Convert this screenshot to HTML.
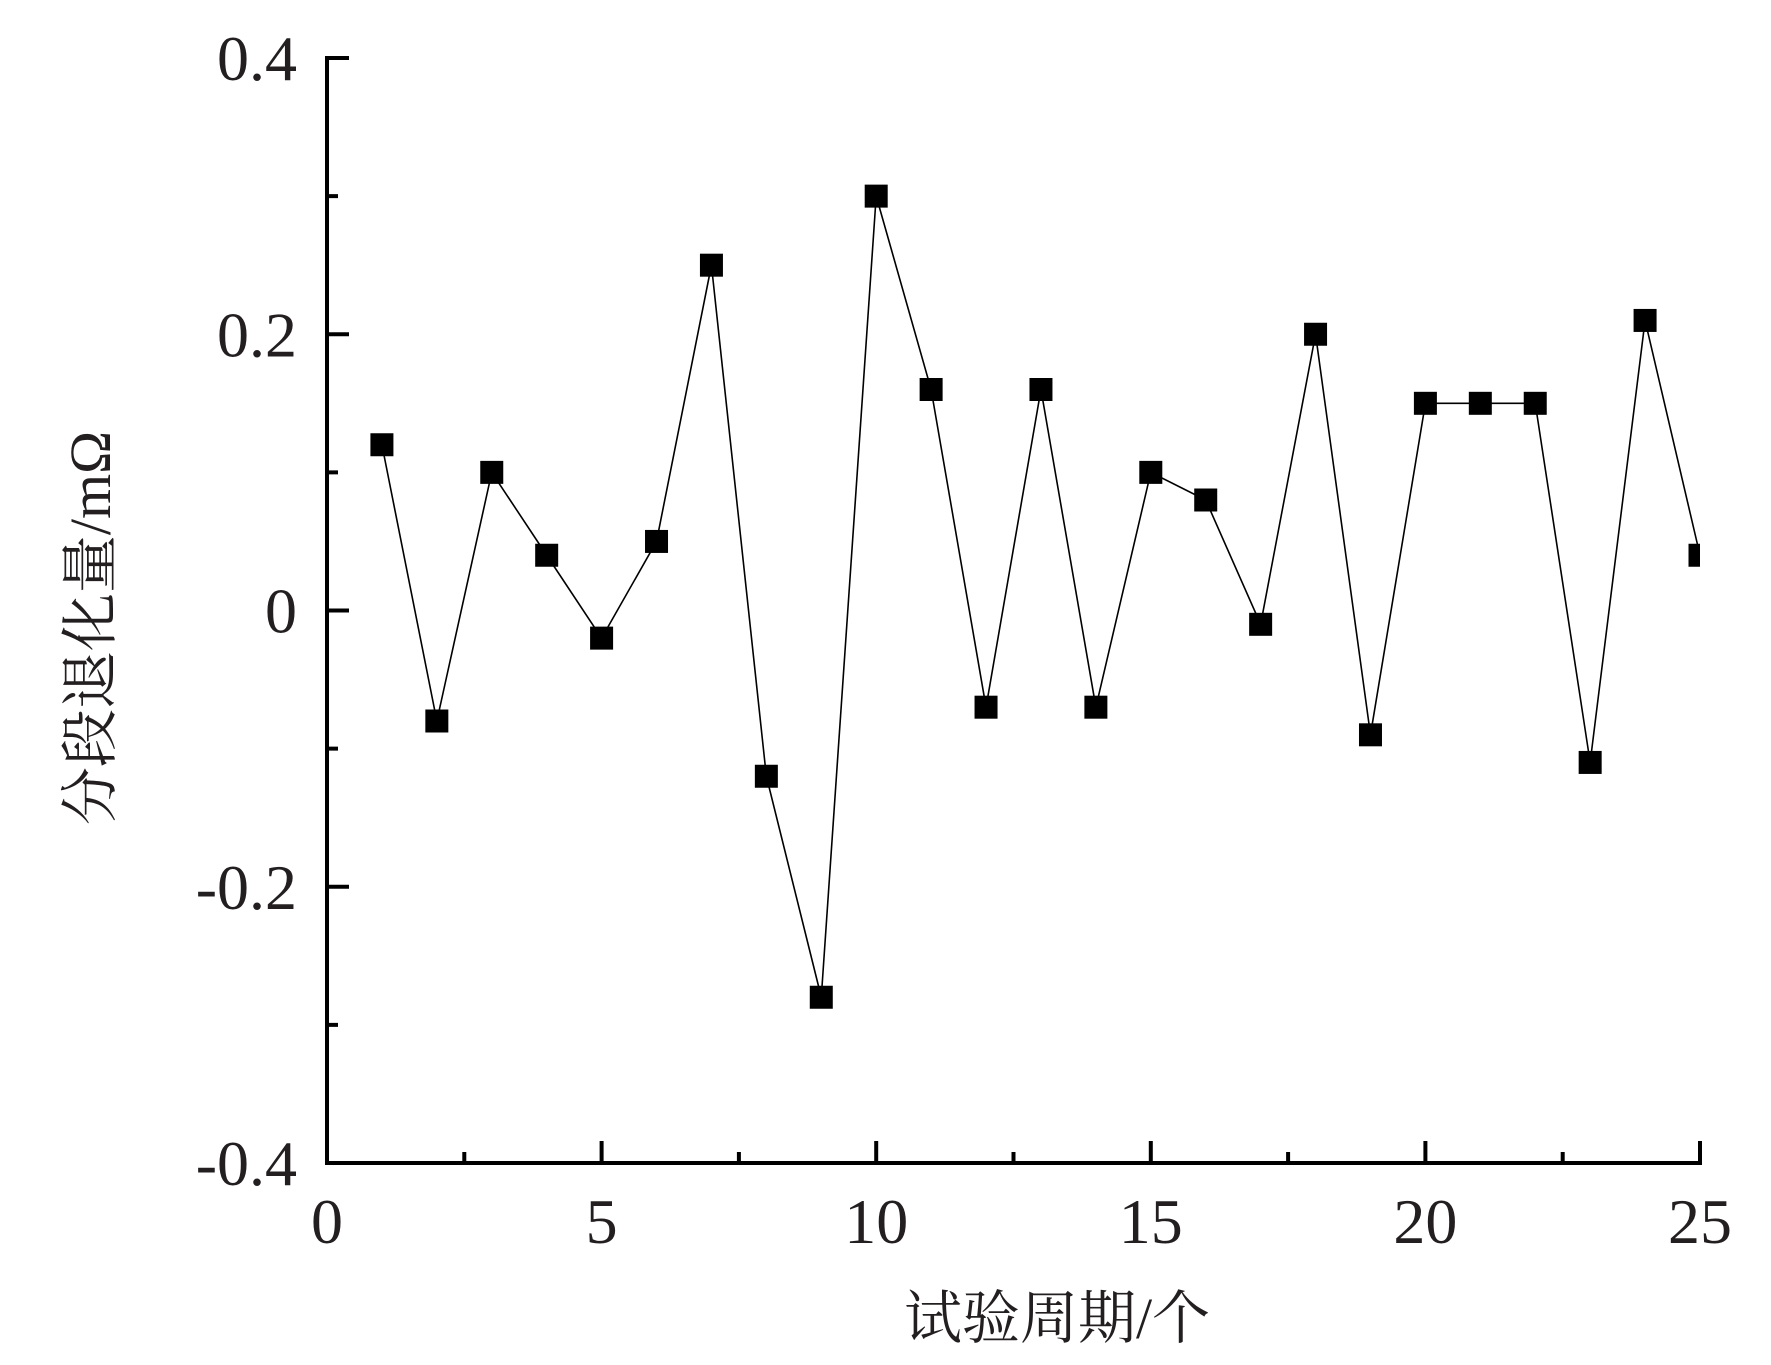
<!DOCTYPE html>
<html><head><meta charset="utf-8"><style>body{margin:0;background:#fff}svg{display:block}</style></head>
<body>
<svg id="chart" width="1771" height="1365" viewBox="0 0 1771 1365" xmlns="http://www.w3.org/2000/svg">
<g id="plot"></g>
</svg>
<script>
const categories=[1,2,3,4,5,6,7,8,9,10,11,12,13,14,15,16,17,18,19,20,21,22,23,24,25];
const values=[0.12,-0.08,0.10,0.04,-0.02,0.05,0.25,-0.12,-0.28,0.30,0.16,-0.07,0.16,-0.07,0.10,0.08,-0.01,0.20,-0.09,0.15,0.15,0.15,-0.11,0.21,0.04];
const xTicks=[0,5,10,15,20,25];
const xTickLabels=["0","5","10","15","20","25"];
const yTicks=[-0.4,-0.2,0,0.2,0.4];
const yTickLabels=["-0.4","-0.2","0","0.2","0.4"];
const X0=327,X1=1700,Y0=1163,Y1=58;
const sx=v=>X0+(v-0)/25*(X1-X0);
const sy=v=>Y0-(v+0.4)/0.8*(Y0-Y1);
const NS="http://www.w3.org/2000/svg";
const g=document.getElementById('plot');
function mk(t,a){const e=document.createElementNS(NS,t);for(const k in a)e.setAttribute(k,a[k]);g.appendChild(e);return e;}
const font='"Liberation Serif","Noto Serif CJK SC",serif';
// clip
const defs=mk('defs',{});
const cp=document.createElementNS(NS,'clipPath');cp.setAttribute('id','clip');
const cr=document.createElementNS(NS,'rect');cr.setAttribute('x',X0);cr.setAttribute('y',Y1-20);cr.setAttribute('width',X1-X0);cr.setAttribute('height',Y0-Y1+40);
cp.appendChild(cr);defs.appendChild(cp);
// series line
const pts=categories.map((c,i)=>sx(c)+','+sy(values[i])).join(' ');
const line=mk('polyline',{points:pts,fill:'none',stroke:'#000','stroke-width':1.6,'clip-path':'url(#clip)'});


categories.forEach((c,i)=>{
  const r=mk('rect',{x:sx(c)-11.5,y:sy(values[i])-11.5,width:23,height:23,fill:'#000','clip-path':'url(#clip)'});
  
  
});
// axes
const ya=mk('line',{x1:X0,y1:Y1-2,x2:X0,y2:Y0+2,stroke:'#000','stroke-width':4});


const xa=mk('line',{x1:X0-2,y1:Y0,x2:X1+2,y2:Y0,stroke:'#000','stroke-width':4});


// y ticks
yTicks.forEach((v,i)=>{
  const t=mk('line',{x1:X0,y1:sy(v),x2:X0+22,y2:sy(v),stroke:'#000','stroke-width':4});
  
  
  if(i<yTicks.length-1){const m=mk('line',{x1:X0,y1:sy(v+0.1),x2:X0+11,y2:sy(v+0.1),stroke:'#000','stroke-width':4});
    
    }
  const l=mk('text',{x:297,y:sy(v)+22,'text-anchor':'end','font-family':font,'font-size':64,fill:'#231f20'});
  l.textContent=yTickLabels[i];
  
  
});
xTicks.forEach((v,i)=>{
  const t=mk('line',{x1:sx(v),y1:Y0,x2:sx(v),y2:Y0-22,stroke:'#000','stroke-width':4});
  
  
  if(i<xTicks.length-1){const m=mk('line',{x1:sx(v+2.5),y1:Y0,x2:sx(v+2.5),y2:Y0-11,stroke:'#000','stroke-width':4});
    
    }
  const l=mk('text',{x:sx(v),y:1243,'text-anchor':'middle','font-family':font,'font-size':64,fill:'#231f20'});
  l.textContent=xTickLabels[i];
  
  
});
const xt=mk('text',{x:1057,y:1338,'text-anchor':'middle','font-family':font,'font-size':58,fill:'#231f20'});
xt.textContent='试验周期/个';


const yt=mk('text',{x:0,y:0,'text-anchor':'middle','font-family':font,'font-size':58,fill:'#231f20',transform:'translate(110,628) rotate(-90)'});
yt.textContent='分段退化量/mΩ';


</script>
</body></html>
